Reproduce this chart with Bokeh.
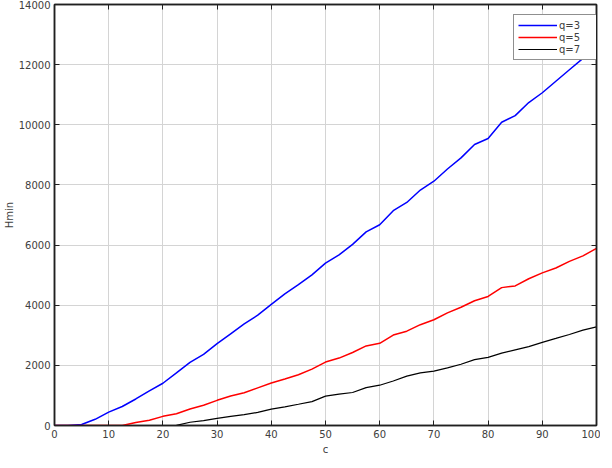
from bokeh.plotting import figure
from bokeh.models import LinearAxis, FixedTicker, Legend, LegendItem, Range1d
from bokeh.embed import file_html
from bokeh.resources import INLINE

# ---- data ----
c = [0, 2.5, 5, 7.5, 10, 12.5, 15, 17.5, 20, 22.5, 25, 27.5, 30, 32.5, 35, 37.5, 40,
     42.5, 45, 47.5, 50, 52.5, 55, 57.5, 60, 62.5, 65, 67.5, 70, 72.5, 75, 77.5, 80,
     82.5, 85, 87.5, 90, 92.5, 95, 97.5, 100]
hmin_q3 = [0, 0, 33, 206, 445, 631, 882, 1154, 1405, 1752, 2100, 2363, 2722, 3049,
           3376, 3670, 4030, 4379, 4683, 5010, 5400, 5673, 6023, 6438, 6676, 7144,
           7418, 7830, 8124, 8529, 8900, 9346, 9542, 10085, 10304, 10739, 11065,
           11448, 11830, 12209, 12591]
hmin_q5 = [0, 0, 0, 0, 0, 0, 98, 173, 304, 392, 550, 673, 837, 980, 1088, 1252, 1415,
           1546, 1686, 1873, 2110, 2242, 2428, 2647, 2732, 3007, 3137, 3353, 3516,
           3745, 3931, 4150, 4291, 4585, 4641, 4879, 5075, 5239, 5458, 5641, 5892]
hmin_q7 = [0, 0, 0, 0, 0, 0, 0, 0, 0, 5, 108, 163, 239, 304, 359, 435, 543, 621, 706,
           794, 975, 1046, 1098, 1261, 1340, 1480, 1644, 1752, 1807, 1915, 2036, 2190,
           2265, 2405, 2516, 2624, 2765, 2895, 3026, 3170, 3278]
x_ticks = [0, 10, 20, 30, 40, 50, 60, 70, 80, 90, 100]
y_ticks = [0, 2000, 4000, 6000, 8000, 10000, 12000, 14000]
labels = ["q=3", "q=5", "q=7"]

FONT = "DejaVu Sans"
TXT = "#404040"
FW, FH = 542, 421

p = figure(frame_width=FW, frame_height=FH,
           x_range=Range1d(0, 100), y_range=Range1d(0, 14000),
           output_backend="svg", toolbar_location=None,
           min_border_left=50, min_border_right=4, min_border_top=4, min_border_bottom=0,
           background_fill_color="white", border_fill_color="white")

p.outline_line_color = "#202020"
p.outline_line_width = 1.5

r1 = p.line(c, hmin_q3, line_color="#0000ff", line_width=1.5)
r2 = p.line(c, hmin_q5, line_color="#ff0000", line_width=1.5)
r3 = p.line(c, hmin_q7, line_color="#000000", line_width=1.2)

p.xaxis.ticker = FixedTicker(ticks=x_ticks)
p.yaxis.ticker = FixedTicker(ticks=y_ticks)
for ax in p.axis:
    ax.major_tick_in = 5
    ax.major_tick_out = 0
    ax.minor_tick_in = 0
    ax.minor_tick_out = 0
    ax.major_tick_line_color = "#202020"
    ax.axis_line_color = "#202020"
    ax.axis_line_width = 1.5
    ax.major_label_text_font = FONT
    ax.major_label_text_font_size = "10px"
    ax.major_label_text_color = TXT
    ax.major_label_standoff = 4
    ax.axis_label_text_font = FONT
    ax.axis_label_text_font_size = "10px"
    ax.axis_label_text_font_style = "normal"
    ax.axis_label_text_color = TXT
    ax.axis_label_standoff = 1

p.xaxis.axis_label = "c"
p.yaxis.axis_label = "Hmin"
p.xaxis.axis_label_standoff = 3


def tick_only_axis(ticks):
    return LinearAxis(ticker=FixedTicker(ticks=ticks),
                      major_label_text_font_size="0px", major_label_text_color=None,
                      major_label_text_alpha=0, major_label_standoff=0,
                      major_tick_in=5, major_tick_out=0,
                      minor_tick_in=0, minor_tick_out=0, axis_line_color="#202020",
                      axis_line_width=1.5, major_tick_line_color="#202020")


p.add_layout(tick_only_axis(x_ticks), "above")
p.add_layout(tick_only_axis(y_ticks), "right")

p.xgrid.ticker = FixedTicker(ticks=x_ticks)
p.ygrid.ticker = FixedTicker(ticks=y_ticks)
p.grid.grid_line_color = "#d4d4d4"
p.grid.grid_line_width = 1

legend = Legend(items=[LegendItem(label=labels[0], renderers=[r1]),
                       LegendItem(label=labels[1], renderers=[r2]),
                       LegendItem(label=labels[2], renderers=[r3])],
                location=(FW - 83, FH - 12 - 44))
legend.border_line_color = "#202020"
legend.border_line_width = 1
legend.background_fill_color = "white"
legend.background_fill_alpha = 1
legend.label_text_font = FONT
legend.label_text_font_size = "10px"
legend.label_text_color = TXT
legend.glyph_width = 39
legend.glyph_height = 12
legend.label_height = 12
legend.label_width = 34
legend.label_standoff = 2
legend.padding = 4
legend.spacing = 0
legend.margin = 0
p.add_layout(legend)

open("out.html", "w").write(file_html(p, INLINE))
